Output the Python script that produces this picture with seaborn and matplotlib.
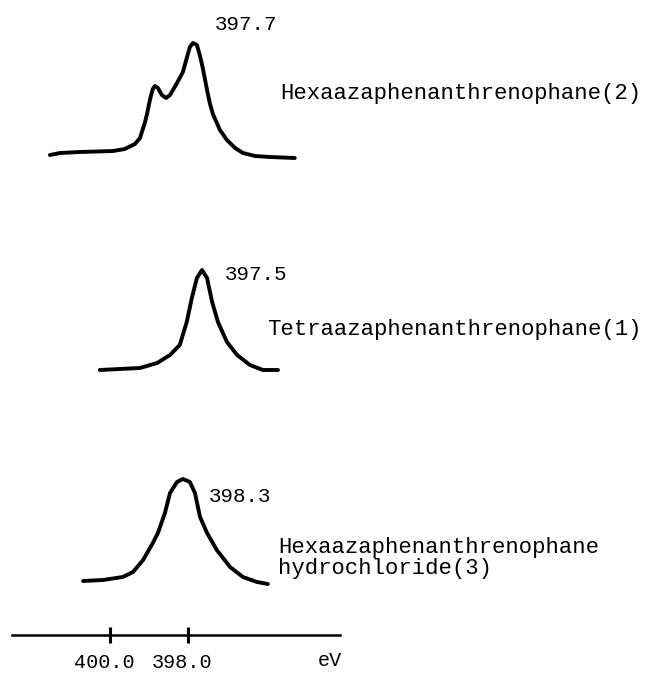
import numpy as np
import pandas as pd
import matplotlib
matplotlib.use("Agg")
import matplotlib.pyplot as plt
import matplotlib.transforms as mtransforms
import seaborn as sns

# N1s spectra, binding energy (eV) vs intensity (arbitrary units)
hexa_ev = [401.54, 401.28, 400.77, 399.92, 399.62, 399.36, 399.23, 399.10, 399.05,
           398.97, 398.90, 398.85, 398.77, 398.67, 398.56, 398.46, 398.28, 398.13,
           398.03, 397.95, 397.87, 397.77, 397.69, 397.62, 397.51, 397.44, 397.36,
           397.18, 397.00, 396.79, 396.59, 396.28, 395.90, 395.26]
hexa_int = [5, 7, 8, 9, 11, 16, 22, 38, 46, 61, 71, 74, 72, 65, 62, 65, 77, 88,
            102, 113, 117, 115, 104, 92, 70, 57, 46, 30, 20, 12, 7, 4, 3, 2]

tetra_ev = [400.26, 399.23, 398.79, 398.46, 398.21, 398.03, 397.90, 397.77, 397.64,
            397.51, 397.38, 397.23, 397.00, 396.74, 396.41, 396.08, 395.69]
tetra_int = [2, 4, 9, 17, 27, 50, 74, 94, 102, 94, 70, 50, 30, 17, 7, 2, 2]

hcl_ev = [400.69, 400.18, 399.67, 399.41, 399.15, 398.90, 398.77, 398.59, 398.46,
          398.28, 398.13, 397.95, 397.82, 397.69, 397.51, 397.26, 396.92, 396.59,
          396.23, 395.95]
hcl_int = [5, 6, 9, 14, 26, 43, 53, 73, 93, 104, 107, 104, 93, 69, 53, 36, 19, 9, 4, 2]

peak_labels = ["397.7", "397.5", "398.3"]
names = ["Hexaazaphenanthrenophane(2)",
         "Tetraazaphenanthrenophane(1)",
         "Hexaazaphenanthrenophane\nhydrochloride(3)"]
tick_values = [400.0, 398.0]
tick_labels = ["400.0", "398.0"]
axis_unit = "eV"

# vertical stacking offsets
offsets = [516, 304, 90]

sns.set_style("white")
plt.rcParams['font.family'] = ['Liberation Mono', 'DejaVu Sans Mono']
plt.rcParams['text.color'] = 'black'
plt.rcParams['xtick.color'] = 'black'

fig = plt.figure(figsize=(6.5, 6.76), dpi=100)
ax = fig.add_axes([0, 0, 1, 1])

curves = [(hexa_ev, hexa_int), (tetra_ev, tetra_int), (hcl_ev, hcl_int)]
for (ev, inten), off in zip(curves, offsets):
    df = pd.DataFrame({"ev": ev, "y": np.array(inten) + off})
    sns.lineplot(data=df, x="ev", y="y", ax=ax, color="black", lw=2.8,
                 estimator=None, sort=False, solid_capstyle="round",
                 solid_joinstyle="round")

# peak energy labels
ax.text(397.31, 651, peak_labels[0], fontsize=15, va="center", ha="left")
ax.text(397.05, 401, peak_labels[1], fontsize=15, va="center", ha="left")
ax.text(397.46, 179, peak_labels[2], fontsize=15, va="center", ha="left")

# compound names
ax.text(395.64, 582, names[0], fontsize=16, va="center", ha="left")
ax.text(395.97, 346, names[1], fontsize=16, va="center", ha="left")
ax.text(395.69, 118, names[2], fontsize=16, va="center", ha="left", linespacing=0.95)

ax.set_xlim(402.82, 386.15)
ax.set_ylim(0, 676)

# energy axis drawn as the bottom spine
for side in ["left", "top", "right"]:
    ax.spines[side].set_visible(False)
ax.spines["bottom"].set_position(("data", 41))
ax.spines["bottom"].set_bounds(402.51, 394.10)
ax.spines["bottom"].set_linewidth(1.8)
ax.spines["bottom"].set_color("black")
ax.set_xticks(tick_values)
ax.set_xticklabels(tick_labels, fontsize=14.5)
ax.tick_params(axis="x", direction="inout", length=12, width=2.2, pad=7, bottom=True)
# labels sit a little left of their ticks in the original
shift = mtransforms.ScaledTranslation(-6 / 100, 0, fig.dpi_scale_trans)
for lab in ax.get_xticklabels():
    lab.set_transform(lab.get_transform() + shift)
ax.set_yticks([])
ax.set_xlabel("")
ax.set_ylabel("")
ax.text(394.36, 15, axis_unit, fontsize=14.5, va="center", ha="center")

fig.savefig("out.png", dpi=100, facecolor="white")
